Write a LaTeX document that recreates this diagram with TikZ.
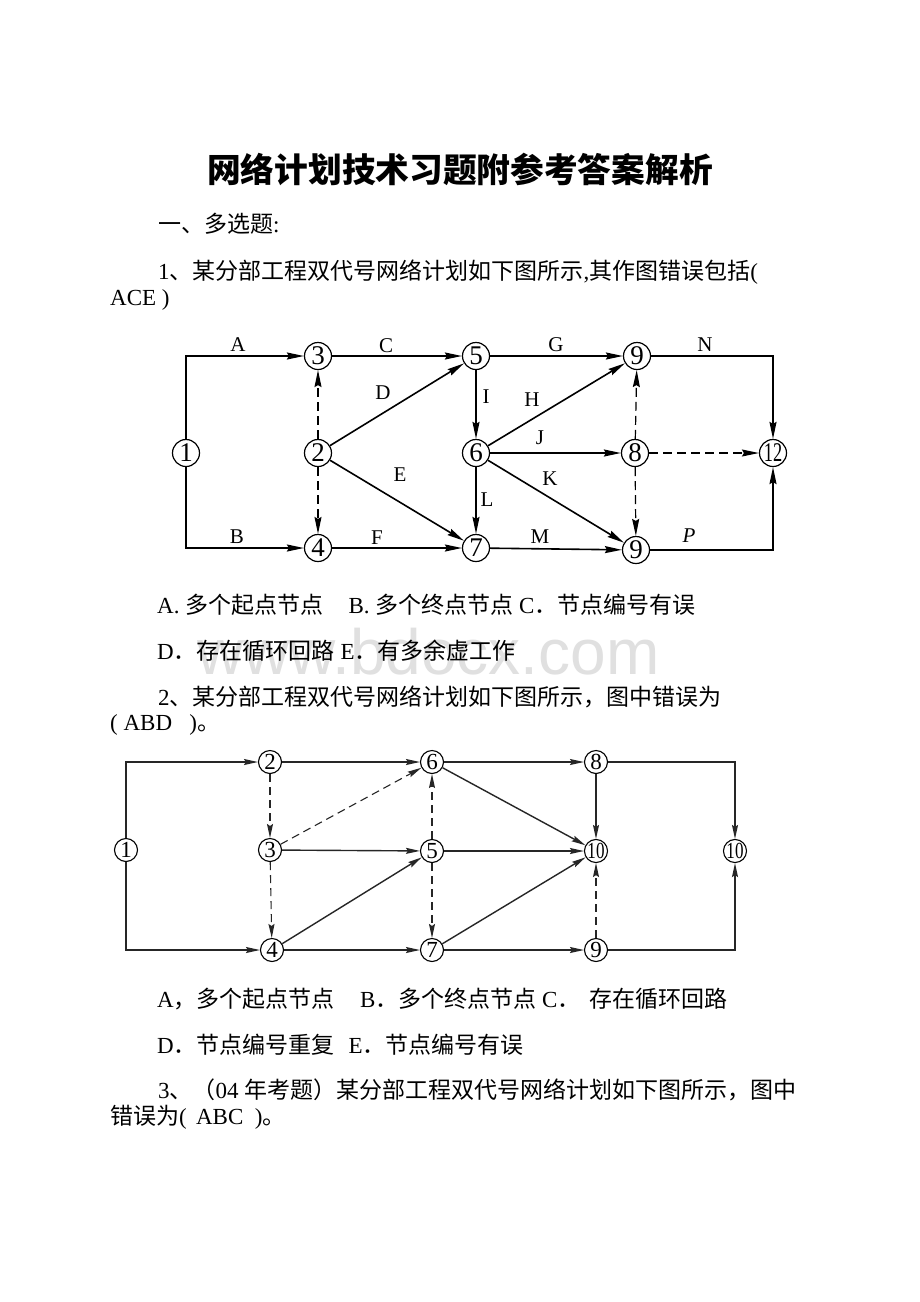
\documentclass[tikz,border=0pt]{standalone}
\usepackage{fontspec}
\setmainfont{Liberation Serif}
\newfontfamily\cjk{Noto Sans CJK SC}
\newfontfamily\wmfont{Liberation Sans}
\usetikzlibrary{arrows.meta}
\newcommand\zh[1]{{\cjk #1}}
\begin{document}
\begin{tikzpicture}[x=1pt,y=-1pt,
  body/.style={anchor=base west,inner sep=0pt,font=\fontsize{23}{27}\selectfont},
  nodeA/.style={circle,draw,line width=1.2pt,minimum size=27pt,inner sep=0pt,font=\fontsize{27}{27}\selectfont},
  nodeB/.style={circle,draw,line width=1.1pt,minimum size=23pt,inner sep=0pt,font=\fontsize{23}{23}\selectfont},
  lbl/.style={inner sep=0pt,font=\fontsize{21}{21}\selectfont},
  arrA/.style={line width=1.6pt,-{Stealth[length=17pt,width=7pt,inset=2pt]}},
  virtA/.style={arrA,line width=1.2pt,dash pattern=on 9pt off 5pt},
  arrB/.style={line width=1.4pt,draw=black!85,-{Stealth[length=14pt,width=6pt,inset=2pt]}},
  virtB/.style={arrB,line width=1.1pt,dash pattern=on 8pt off 5pt},
]
\useasboundingbox (0,0) rectangle (920,1302);
\fill[white] (0,0) rectangle (920,1302);

% watermark
\node[anchor=base west,inner sep=0pt,text=black!12,font=\wmfont\fontsize{64}{64}\selectfont] (wm) at (197,674) {www.bdocx.com};

% texts
\node[anchor=base,inner sep=0pt,font=\cjk\bfseries\fontsize{33.7}{36}\selectfont] (title) at (460,182) {网络计划技术习题附参考答案解析};
\node[body] (t1) at (158,232) {\zh{一、多选题}:};
\node[body] (q1) at (158,279) {1\zh{、某分部工程双代号网络计划如下图所示},\zh{其作图错误包括}(};
\node[body] (q1b) at (110,305) {ACE )};
\node[body] (o1a) at (157,613) {A. \zh{多个起点节点}\hspace{1.1em}B. \zh{多个终点节点} C\zh{．节点编号有误}};
\node[body] (o1b) at (157,659) {D\zh{．存在循环回路} E\zh{．有多余虚工作}};
\node[body] (q2) at (158,705) {2\zh{、某分部工程双代号网络计划如下图所示，图中错误为}};
\node[body] (q2b) at (110,730) {( ABD\hspace{0.75em})\zh{。}};
\node[body] (o2a) at (157,1007) {A\zh{，多个起点节点}\hspace{1.1em}B\zh{．多个终点节点} C\zh{．}\hspace{0.4em}\zh{存在循环回路}};
\node[body] (o2b) at (157,1053) {D\zh{．节点编号重复}\hspace{0.6em}E\zh{．节点编号有误}};
\node[body] (q3) at (158,1098) {3\zh{、（}04 \zh{年考题）某分部工程双代号网络计划如下图所示，图中}};
\node[body] (q3b) at (110,1124) {\zh{错误为}(\hspace{0.4em}ABC\hspace{0.5em})\zh{。}};

% ---------- diagram 1 ----------
\node[nodeA] (n1) at (186,453) {1};
\node[nodeA] (n3) at (318,356) {3};
\node[nodeA] (n5) at (476,356) {5};
\node[nodeA] (n9a) at (637,356) {9};
\node[nodeA] (n2) at (318,453) {2};
\node[nodeA] (n6) at (476,453) {6};
\node[nodeA] (n8) at (635,453) {8};
\node[nodeA] (n12) at (773,453) {\scalebox{0.68}[1]{12}};
\node[nodeA] (n4) at (318,548) {4};
\node[nodeA] (n7) at (476,548) {7};
\node[nodeA] (n9b) at (636,550) {9};

\draw[arrA] (n1) |- (n3);
\draw[arrA] (n1) |- (n4);
\draw[arrA] (n3) -- (n5);
\draw[virtA] (n2) -- (n3);
\draw[virtA] (n2) -- (n4);
\draw[arrA] (n2) -- (n5);
\draw[arrA] (n2) -- (n7);
\draw[arrA] (n4) -- (n7);
\draw[arrA] (n5) -- (n9a);
\draw[arrA] (n5) -- (n6);
\draw[arrA] (n6) -- (n9a);
\draw[arrA] (n6) -- (n8);
\draw[arrA] (n6) -- (n9b);
\draw[arrA] (n6) -- (n7);
\draw[arrA] (n7) -- (n9b);
\draw[virtA] (n8) -- (n9a);
\draw[virtA] (n8) -- (n9b);
\draw[virtA] (n8) -- (n12);
\draw[arrA] (n9a) -| (n12);
\draw[arrA] (n9b) -| (n12);

\node[lbl] (lA) at (238,345) {A};
\node[lbl] (lC) at (386,346) {C};
\node[lbl] (lG) at (556,345) {G};
\node[lbl] (lN) at (705,345) {N};
\node[lbl] (lD) at (383,393) {D};
\node[lbl] (lI) at (486,397) {I};
\node[lbl] (lH) at (532,400) {H};
\node[lbl] (lJ) at (540,438) {J};
\node[lbl] (lE) at (400,475) {E};
\node[lbl] (lK) at (550,479) {K};
\node[lbl] (lL) at (487,500) {L};
\node[lbl] (lB) at (237,537) {B};
\node[lbl] (lF) at (377,538) {F};
\node[lbl] (lM) at (540,537) {M};
\node[lbl] (lP) at (689,536) {\textit{P}};

% ---------- diagram 2 ----------
\node[nodeB] (m1) at (126,850) {1};
\node[nodeB] (m2) at (270,762) {2};
\node[nodeB] (m6) at (432,762) {6};
\node[nodeB] (m8) at (596,762) {8};
\node[nodeB] (m3) at (270,850) {3};
\node[nodeB] (m5) at (432,851) {5};
\node[nodeB] (m10a) at (596,851) {\scalebox{0.74}[1]{10}};
\node[nodeB] (m10b) at (735,851) {\scalebox{0.74}[1]{10}};
\node[nodeB] (m4) at (272,950) {4};
\node[nodeB] (m7) at (432,950) {7};
\node[nodeB] (m9) at (596,950) {9};

\draw[arrB] (m1) |- (m2);
\draw[arrB] (m1) |- (m4);
\draw[arrB] (m2) -- (m6);
\draw[virtB] (m2) -- (m3);
\draw[virtB] (m3) -- (m6);
\draw[arrB] (m3) -- (m5);
\draw[virtB] (m3) -- (m4);
\draw[arrB] (m4) -- (m5);
\draw[arrB] (m4) -- (m7);
\draw[virtB] (m5) -- (m6);
\draw[virtB] (m5) -- (m7);
\draw[arrB] (m6) -- (m8);
\draw[arrB] (m6) -- (m10a);
\draw[arrB] (m5) -- (m10a);
\draw[arrB] (m7) -- (m10a);
\draw[arrB] (m8) -- (m10a);
\draw[virtB] (m9) -- (m10a);
\draw[arrB] (m7) -- (m9);
\draw[arrB] (m8) -| (m10b);
\draw[arrB] (m9) -| (m10b);
\end{tikzpicture}
\end{document}
